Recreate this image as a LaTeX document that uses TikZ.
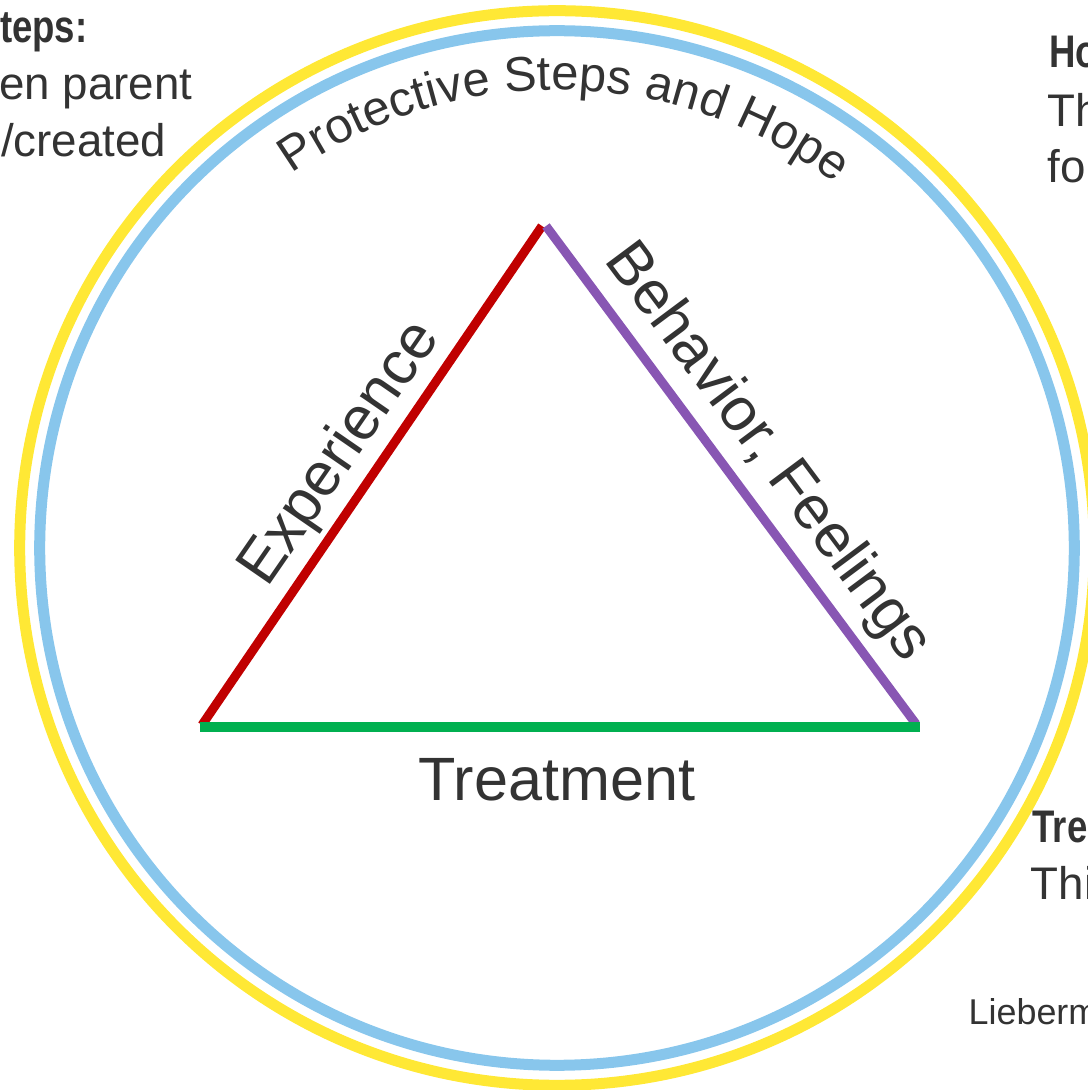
\documentclass[tikz,border=0pt]{standalone}
\usepackage{fontspec}
\setmainfont{Liberation Sans}
\usetikzlibrary{decorations.text}
\definecolor{ringyellow}{HTML}{FFE835}
\definecolor{ringblue}{HTML}{88C6EC}
\definecolor{expred}{HTML}{C00000}
\definecolor{behpurple}{HTML}{8856B3}
\definecolor{treatgreen}{HTML}{00B050}
\definecolor{txt}{HTML}{333333}
\tikzset{
  ring/.style={line width=0.11cm},
  side/.style={line width=0.09cm},
  lbl/.style={text=txt, inner sep=0pt, font=\fontsize{17.4}{20}\selectfont},
  note/.style={text=txt, inner sep=0pt, font=\fontsize{13}{15}\selectfont},
  notehead/.style={note, xscale=0.8, font=\fontsize{13}{15}\selectfont\bfseries},
}

\begin{document}
\begin{tikzpicture}[x=0.01cm, y=0.01cm]
  \useasboundingbox (0,0) rectangle (1088,1090);
  \clip (0,0) rectangle (1088,1090);
  \coordinate (C) at (557,542);
  % rings
  \draw[ring, ringyellow] (C) circle[radius=5.37cm];
  \draw[ring, ringblue] (C) circle[radius=5.17cm];
  \path[decorate, decoration={text along path, text align=center,
    text={|\fontsize{13.9}{17}\selectfont\color{txt}|Protective Steps and Hope}}]
    (C) ++(178:4.58cm) arc[start angle=178, end angle=0, radius=4.58cm];
  % triangle
  \coordinate (L) at (202,365);
  \coordinate (R) at (916,366);
  \coordinate (Tl) at (542,864);
  \coordinate (Tr) at (546,864);
  \coordinate (Lg) at (200,363);
  \coordinate (Rg) at (920,363);
  \draw[side, expred] (L) -- (Tl);
  \draw[side, behpurple] (Tr) -- (R);
  \draw[line width=0.1cm, treatgreen] (Lg) -- (Rg);
  \node[lbl, rotate=55.4] (experience) at (341,636) {Experience};
  \node[lbl, rotate=-53.3] (behavior) at (767,637) {Behavior, Feelings};
  \node[lbl] (treatment) at (557,310) {Treatment};
  % side notes, cut by the page edge
  \node[notehead, anchor=base east] (stepsHead) at (88,1047) {teps:};
  \node[note, anchor=base east] (stepsA) at (193,990) {en parent};
  \node[note, anchor=base east] (stepsB) at (167,933) {/created};
  \node[notehead, anchor=base west] (hopeHead) at (1049,1022) {Ho};
  \node[note, anchor=base west] (hopeA) at (1047,963) {Th};
  \node[note, anchor=base west] (hopeB) at (1047,907) {fo};
  \node[notehead, anchor=base west] (treatHead) at (1032,247) {Tre};
  \node[note, anchor=base west] (treatA) at (1030,190) {Thi};
  \node[note, anchor=base west, font=\fontsize{10.2}{12}\selectfont] (source) at (968,65) {Lieberm};
\end{tikzpicture}
\end{document}
